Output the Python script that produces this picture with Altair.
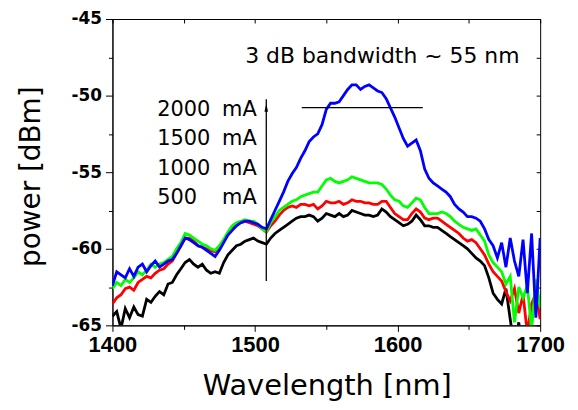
import altair as alt
import pandas as pd

FONT = "Liberation Sans"
TFONT = "DejaVu Sans"

# ---------------- data ----------------
wavelength = list(range(1400, 1701, 3))  # nm sampling grid

blue_2000 = [
    -62.4, -61.5, -61.7, -61.9, -61.3, -61.8, -61.2, -61.0, -61.5, -61.1,
    -60.8, -61.2, -61.0, -60.8, -60.7, -60.3, -59.8, -59.3, -59.4, -59.6,
    -59.8, -59.9, -60.1, -60.3, -60.5, -60.1, -59.6, -59.1, -58.8, -58.5,
    -58.3, -58.2, -58.2, -58.3, -58.4, -58.6, -58.7, -58.1, -57.5, -56.9,
    -56.3, -55.6, -55.1, -54.7, -54.1, -53.6, -53.0, -52.7, -52.5, -51.9,
    -50.9, -50.5, -50.5, -50.4, -50.0, -49.6, -49.3, -49.3, -49.6, -49.4,
    -49.3, -49.5, -49.7, -49.8, -50.2, -50.8, -51.4, -52.1, -52.8, -53.3,
    -53.1, -52.9, -53.6, -54.8, -55.4, -55.7, -55.9, -56.1, -56.3, -56.6,
    -57.1, -57.4, -57.6, -57.9, -57.9, -58.0, -58.2, -58.7, -59.4, -59.8,
    -60.6, -59.6, -61.2, -59.3, -60.8, -61.8, -59.4, -62.9, -59.0, -64.5,
    -59.3,
]

green_1500 = [
    -62.6, -62.2, -62.4, -62.0, -62.2, -61.9, -61.5, -61.7, -61.4, -61.0,
    -61.2, -61.0, -60.9, -60.7, -60.5, -60.0, -59.6, -59.0, -59.1, -59.3,
    -59.5, -59.7, -59.8, -60.0, -60.1, -59.8, -59.4, -58.9, -58.5, -58.3,
    -58.2, -58.1, -58.2, -58.2, -58.4, -58.7, -58.9, -58.3, -57.9, -57.5,
    -57.3, -57.1, -56.9, -56.8, -56.6, -56.5, -56.4, -56.3, -56.3, -55.9,
    -55.5, -55.4, -55.6, -55.7, -55.6, -55.5, -55.3, -55.4, -55.5, -55.6,
    -55.7, -55.7, -55.7, -55.8, -56.1, -56.5, -56.8, -56.9, -57.2, -57.3,
    -57.0, -56.7, -56.8, -57.3, -57.7, -57.7, -57.7, -57.6, -57.7, -57.9,
    -58.2, -58.4, -58.6, -58.7, -58.8, -58.7, -59.1, -59.5, -60.4, -60.9,
    -61.2, -61.5, -62.3, -61.8, -64.8, -62.5, -63.2, -62.4, -65.3, -62.0,
    -63.8,
]

red_1000 = [
    -63.6, -63.2, -63.0, -62.6, -62.5, -62.7, -62.2, -62.0, -61.8, -61.9,
    -61.6, -61.4, -61.3, -61.0, -60.8, -60.3, -59.8, -59.3, -59.3, -59.5,
    -59.8, -59.9, -60.0, -60.1, -60.2, -59.9, -59.5, -59.0, -58.6, -58.4,
    -58.3, -58.2, -58.3, -58.4, -58.5, -58.7, -58.9, -58.5, -58.2, -57.8,
    -57.5, -57.3, -57.2, -57.3, -57.1, -57.1, -57.2, -57.1, -57.4, -57.2,
    -56.9, -57.0, -57.0, -56.9, -57.1, -57.0, -56.8, -56.9, -56.9, -57.0,
    -57.0, -57.1, -57.1, -56.9, -56.9, -57.3, -57.7, -57.9, -58.1, -58.1,
    -57.7, -57.4, -57.6, -58.0, -58.1, -58.0, -58.0, -58.2, -58.4, -58.6,
    -58.8, -59.0, -59.3, -59.5, -59.4, -59.6, -60.0, -60.4, -61.0, -61.5,
    -61.8, -62.1, -62.8, -63.4, -62.6, -64.2, -63.0, -65.5, -63.6, -62.9,
    -64.6,
]

black_500 = [
    -64.4, -64.1, -65.2, -63.9, -64.5, -63.8, -64.3, -64.4, -63.3, -63.5,
    -63.1, -62.8, -63.0, -62.3, -62.2, -61.7, -61.3, -60.9, -60.7, -61.0,
    -61.2, -61.0, -61.4, -61.6, -61.5, -61.6, -60.9, -60.4, -60.1, -59.8,
    -59.7, -59.5, -59.4, -59.3, -59.5, -59.6, -59.7, -59.3, -59.0, -58.8,
    -58.6, -58.4, -58.2, -58.0, -57.9, -57.9, -57.8, -57.9, -58.2, -58.0,
    -57.7, -57.8, -57.9, -57.7, -57.9, -57.8, -57.5, -57.6, -57.7, -57.8,
    -57.8, -57.9, -57.8, -57.4, -57.6, -57.9, -58.1, -58.3, -58.5, -58.4,
    -58.2, -57.8, -58.1, -58.5, -58.5, -58.6, -58.6, -58.8, -59.0, -59.2,
    -59.4, -59.6, -59.8, -60.0, -60.3, -60.6, -60.8, -61.1, -61.9, -62.9,
    -63.3, -63.6, -62.6, -64.6, -66.5, -64.8, -67.0, -67.0, -67.0, -67.0,
    -67.0,
]

current_labels = ["2000", "1500", "1000", "500"]
current_unit = "mA"
current_label_y = [-51.32, -53.22, -55.16, -57.10]
current_num_x = 1431.4
current_unit_x = 1501.2

arrow_x = 1507.9
arrow_y_start = -62.1
arrow_y_tip = -50.54

band_x = [1532.8, 1617.7]
band_y = -50.78

band_text = "3 dB bandwidth ~ 55 nm"
band_text_x = 1589.3
band_text_y = -47.87

x_major_ticks = [1400, 1500, 1600, 1700]
x_minor_ticks = [1450, 1550, 1650]
x_all_ticks = [1400, 1450, 1500, 1550, 1600, 1650, 1700]
y_major_ticks = [-65, -60, -55, -50, -45]
y_minor_ticks = [-62.5, -57.5, -52.5, -47.5]
y_all_ticks = [-65, -62.5, -60, -57.5, -55, -52.5, -50, -47.5, -45]

# ---------------- scales & axes ----------------
xscale = alt.Scale(domain=[1400, 1700], nice=False, zero=False)
yscale = alt.Scale(domain=[-65, -45], nice=False, zero=False)

x_major = alt.Axis(
    orient="bottom", values=x_major_ticks, format="d", grid=False,
    tickSize=6, tickColor="black", domainColor="black",
    labelFont=FONT, labelFontSize=22, labelFontWeight="bold", labelColor="black",
    labelPadding=3, labelFlush=False, labelOverlap=False,
    title="Wavelength [nm]", titleFont=TFONT, titleFontSize=29,
    titleFontWeight="normal", titleColor="black",
    titleX=215.5, titleY=69, titleAlign="center", titleBaseline="alphabetic",
)
y_major = alt.Axis(
    orient="left", values=y_major_ticks, grid=False,
    labelExpr="'-' + abs(datum.value)",
    tickSize=7, tickColor="black", domainColor="black",
    labelFont=TFONT, labelFontSize=17, labelFontWeight="bold", labelColor="black",
    labelPadding=4, labelOverlap=False,
    title="power [dBm]", titleFont=TFONT, titleFontSize=28,
    titleFontWeight="normal", titleColor="black", titleAngle=270,
    titleX=-81, titleY=158, titleAlign="center", titleBaseline="middle",
)
x_minor = alt.Axis(orient="bottom", values=x_minor_ticks, tickSize=4,
                   tickColor="black", labels=False, domain=False, grid=False,
                   title=None)
y_minor = alt.Axis(orient="left", values=y_minor_ticks, tickSize=4,
                   tickColor="black", labels=False, domain=False, grid=False,
                   title=None)
x_top = alt.Axis(orient="top", offset=-4, values=x_all_ticks, tickSize=4,
                 tickColor="black", labels=False, domain=False, grid=False,
                 title=None)
y_right = alt.Axis(orient="right", offset=-4, values=y_all_ticks, tickSize=4,
                   tickColor="black", labels=False, domain=False, grid=False,
                   title=None)


def line_layer(vals, color, x_axis=None, y_axis=None):
    df = pd.DataFrame({"wl": wavelength, "p": vals})
    return alt.Chart(df).mark_line(color=color, strokeWidth=2.8, clip=True).encode(
        x=alt.X("wl:Q", scale=xscale, axis=x_axis),
        y=alt.Y("p:Q", scale=yscale, axis=y_axis),
    )


black_line = line_layer(black_500, "#000000", x_major, y_major)
red_line = line_layer(red_1000, "#FF0000")
green_line = line_layer(green_1500, "#00FF00")
blue_line = line_layer(blue_2000, "#0000FF")

arrow_df = pd.DataFrame({"x": [arrow_x], "y": [arrow_y_start], "y2": [arrow_y_tip + 0.3]})
arrow = alt.Chart(arrow_df).mark_rule(color="black", strokeWidth=1.3).encode(
    x=alt.X("x:Q", scale=xscale, axis=x_minor),
    y=alt.Y("y:Q", scale=yscale, axis=y_minor),
    y2="y2:Q",
)
head_df = pd.DataFrame({"x": [arrow_x], "y": [arrow_y_tip]})
head = alt.Chart(head_df).mark_point(
    shape="M0,0L0.6,2.6L-0.6,2.6Z", filled=True, color="black", opacity=1,
    size=36, strokeWidth=0,
).encode(
    x=alt.X("x:Q", scale=xscale, axis=None),
    y=alt.Y("y:Q", scale=yscale, axis=None),
)

band_df = pd.DataFrame({"x": [band_x[0]], "x2": [band_x[1]], "y": [band_y]})
band = alt.Chart(band_df).mark_rule(color="black", strokeWidth=1.3).encode(
    x=alt.X("x:Q", scale=xscale, axis=x_top),
    x2="x2:Q",
    y=alt.Y("y:Q", scale=yscale, axis=y_right),
)

text_df = pd.DataFrame({"x": [band_text_x], "y": [band_text_y], "t": [band_text]})
band_label = alt.Chart(text_df).mark_text(
    font=TFONT, fontSize=22, color="black", align="center", baseline="alphabetic"
).encode(
    x=alt.X("x:Q", scale=xscale, axis=None),
    y=alt.Y("y:Q", scale=yscale, axis=None),
    text="t:N",
)

cur_df = pd.DataFrame({
    "num": current_labels,
    "unit": [current_unit] * len(current_labels),
    "y": current_label_y,
    "xn": [current_num_x] * len(current_labels),
    "xu": [current_unit_x] * len(current_labels),
})
cur_nums = alt.Chart(cur_df).mark_text(
    font=TFONT, fontSize=21, color="black", align="left", baseline="alphabetic"
).encode(
    x=alt.X("xn:Q", scale=xscale, axis=None),
    y=alt.Y("y:Q", scale=yscale, axis=None),
    text="num:N",
)
cur_units = alt.Chart(cur_df).mark_text(
    font=TFONT, fontSize=21, color="black", align="right", baseline="alphabetic"
).encode(
    x=alt.X("xu:Q", scale=xscale, axis=None),
    y=alt.Y("y:Q", scale=yscale, axis=None),
    text="unit:N",
)

chart = alt.layer(
    black_line, red_line, green_line, blue_line,
    arrow, head, band, band_label, cur_nums, cur_units,
).resolve_axis(
    x="independent", y="independent"
).properties(
    width=430, height=308,
    autosize=alt.AutoSizeParams(type="none"),
    padding={"left": 105, "top": 10, "right": 30, "bottom": 82},
    background="white",
).configure_view(
    stroke="black", strokeWidth=1
)

chart.save("out.html", embed_options={"renderer": "svg", "actions": False})
